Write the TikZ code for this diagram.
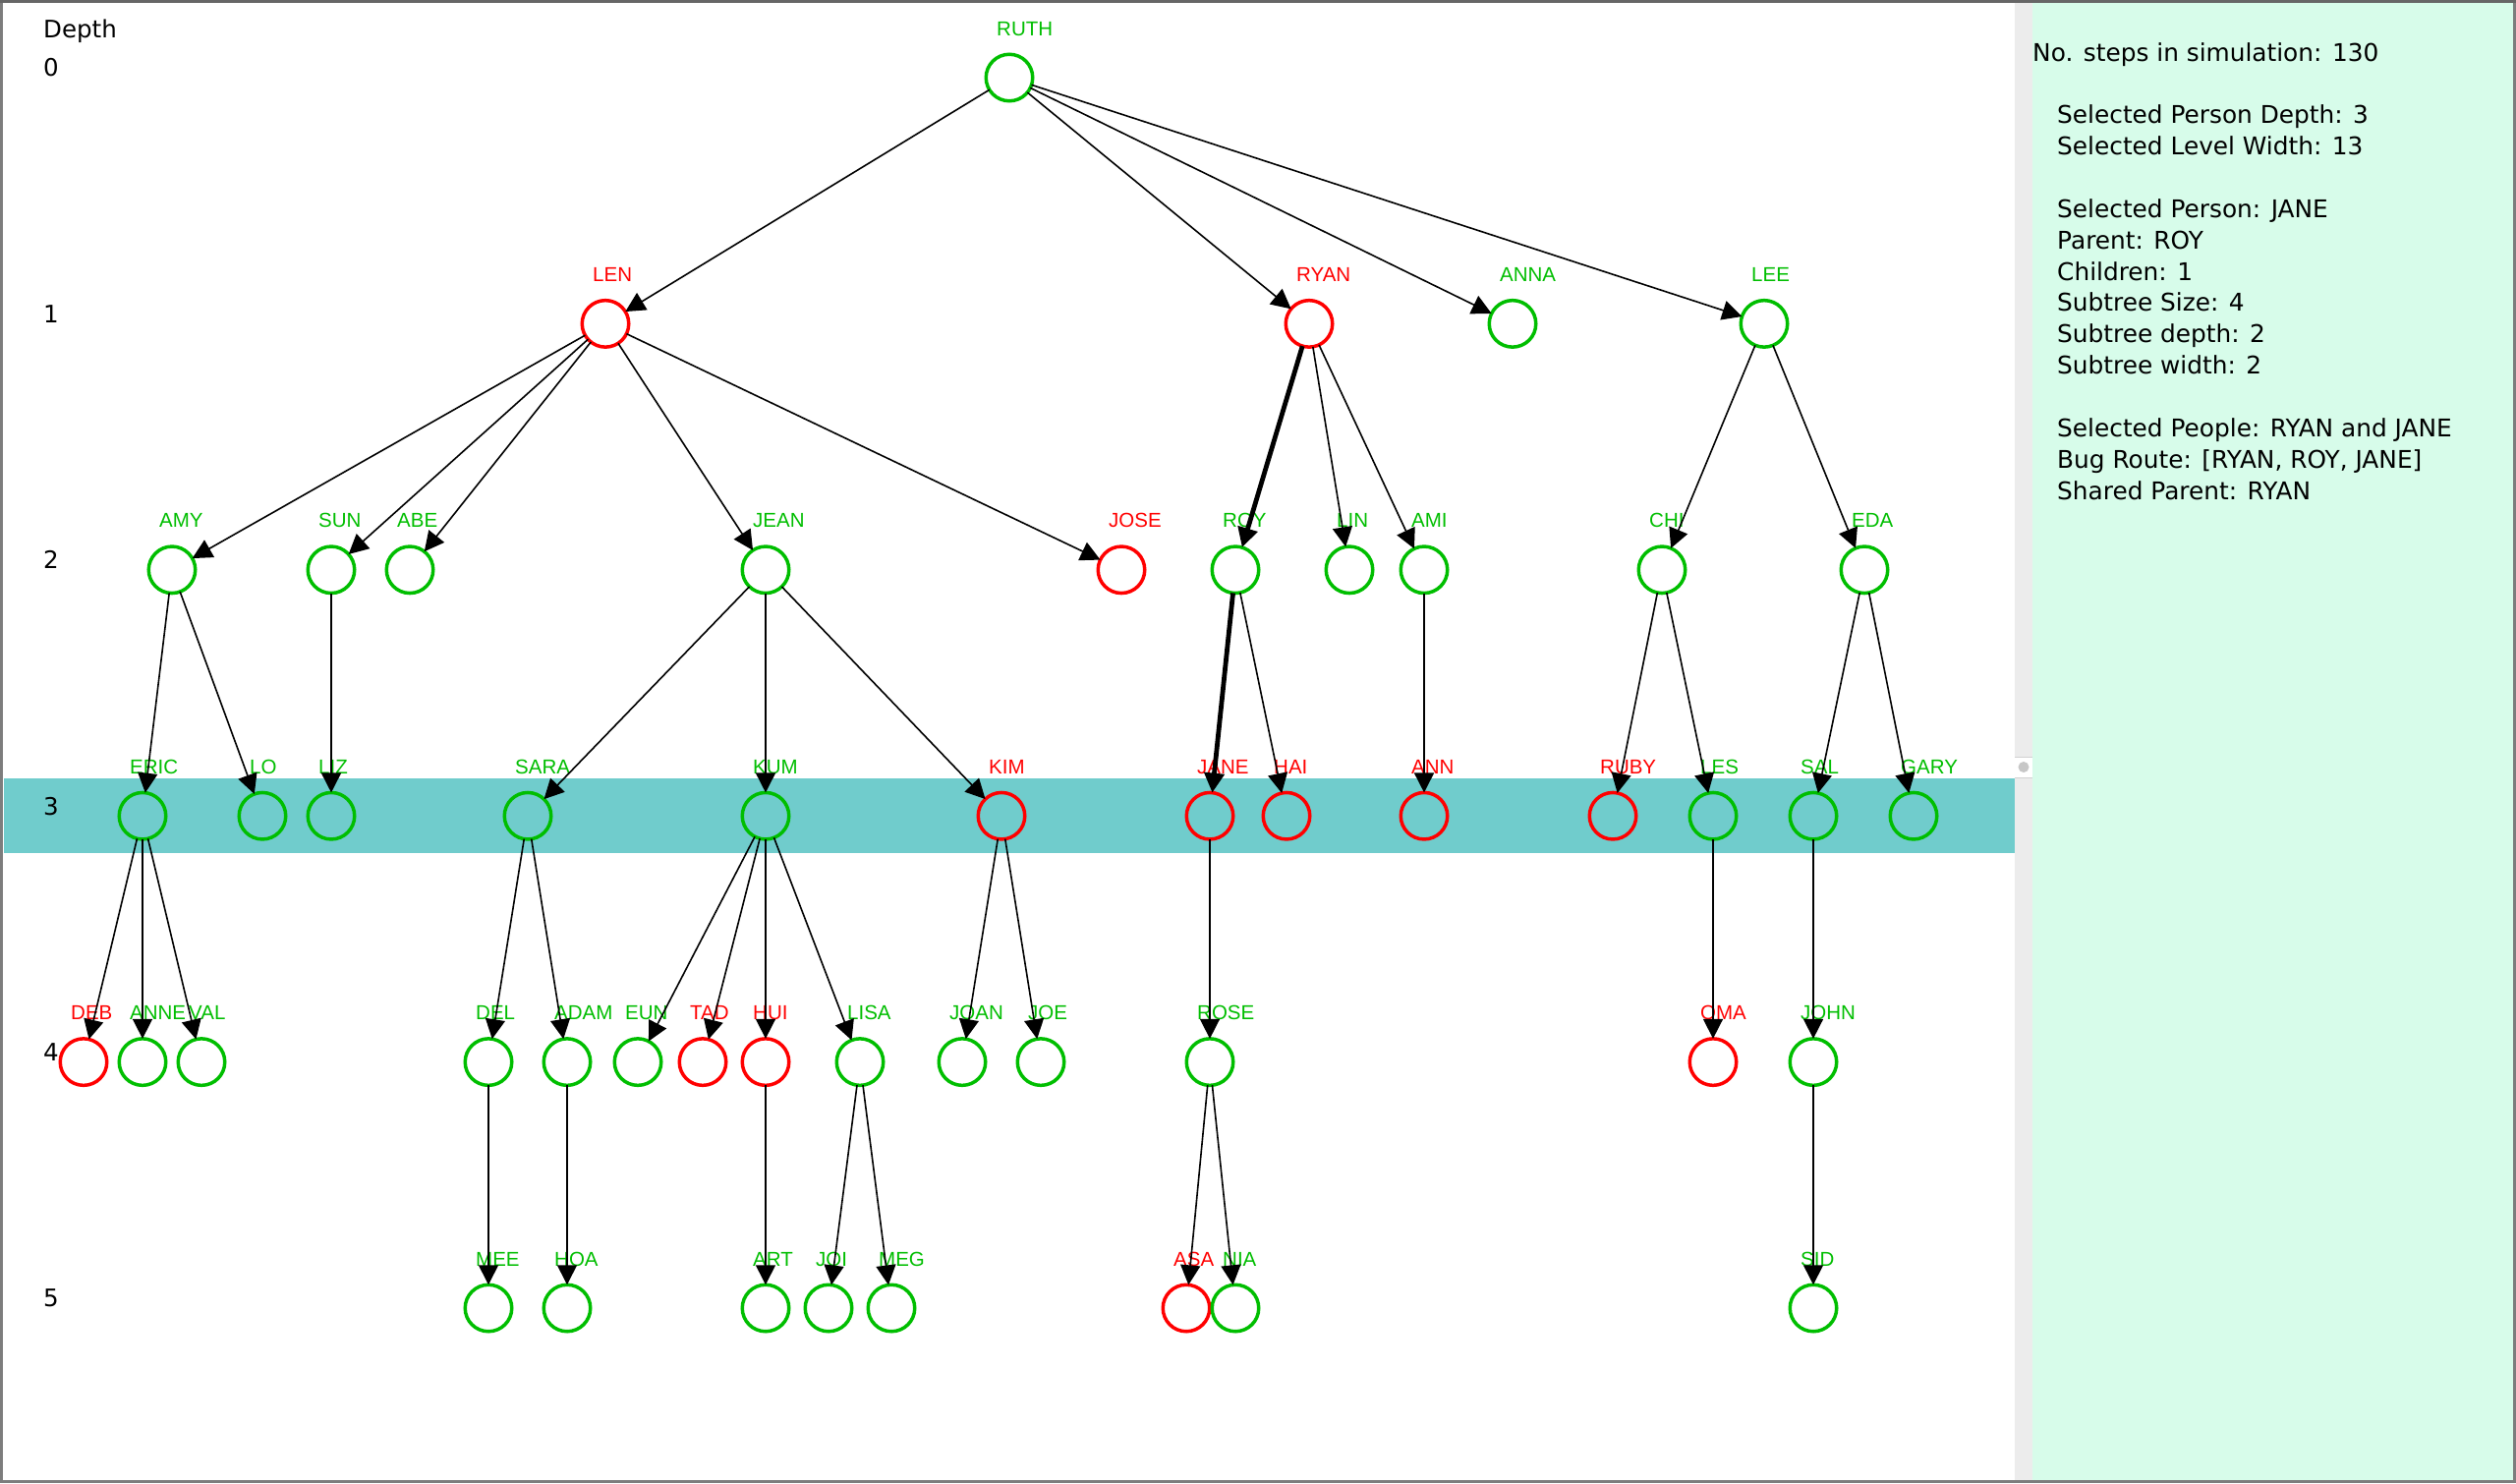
\documentclass[tikz,border=0pt]{standalone}
\usepackage{fontspec}
\setmainfont{Liberation Sans}
\newfontfamily\dvs{DejaVu Sans}
\usetikzlibrary{arrows.meta}
\definecolor{pgreen}{RGB}{0,190,0}
\definecolor{pred}{RGB}{255,0,0}
\definecolor{bandc}{RGB}{112,204,204}
\definecolor{mint}{RGB}{215,252,234}
\definecolor{stripc}{RGB}{236,236,236}
\definecolor{framec}{RGB}{125,125,125}
\newcommand\pers[4]{%
  \node[pc,draw=#4] (#1) at (#2,{79+250.4*#3}) {};
  \node[plab,text=#4] (#1-lab) at ([xshift=-13pt,yshift=43pt]#1.center) {#1};}
\begin{document}
\begin{tikzpicture}[x=1pt,y=-1pt,
  pc/.style={circle,minimum size=47.5pt,inner sep=0pt,outer sep=0pt,line width=3.5pt},
  plab/.style={font=\fontsize{20.5}{24}\selectfont,inner sep=0pt,anchor=base west},
  edge/.style={draw=black,line width=1.6pt,-{Triangle[length=20pt,width=20pt]}},
  route/.style={edge,line width=4.8pt},
  txt/.style={font=\dvs\fontsize{24.5}{30}\selectfont,inner sep=0pt,anchor=base west},
  info/.style={font=\dvs\fontsize{24.8}{30}\selectfont,inner sep=0pt,anchor=base west}]
% background and frame
\fill[white] (0,0) rectangle (2560,1510);
\useasboundingbox (0,0) rectangle (2560,1510);
\fill[mint] (2068,3) rectangle (2557,1506);
\fill[stripc] (2050,3) rectangle (2068,1506);
\fill[white] (2050,770) rectangle (2068,791);
\draw[line width=1pt,black!18] (2050,770) -- (2068,770) (2050,791) -- (2068,791);
\fill[black!22] (2059,780.5) circle (5.5);
\fill[bandc] (4,792) rectangle (2050,868);
\draw[framec,line width=3pt] (1.5,1.5) rectangle (2558.5,1507.5);
\draw[black!60,line width=3pt] (0,1.5) -- (2560,1.5);
% depth column
\node[txt] (dlab) at (44,38) {Depth};
\node[txt] (d0) at (44,77) {0};
\node[txt] (d1) at (44,328) {1};
\node[txt] (d2) at (44,578) {2};
\node[txt] (d3) at (44,829) {3};
\node[txt] (d4) at (44,1079) {4};
\node[txt] (d5) at (44,1329) {5};
% info panel
\node[info] (i0) at (2068,62) {No. steps in simulation: 130};
\node[info] (i1) at (2093,125.7) {Selected Person Depth: 3};
\node[info] (i2) at (2093,157.6) {Selected Level Width: 13};
\node[info] (i3) at (2093,221.4) {Selected Person: JANE};
\node[info] (i4) at (2093,253.2) {Parent: ROY};
\node[info] (i5) at (2093,285) {Children: 1};
\node[info] (i6) at (2093,316.9) {Subtree Size: 4};
\node[info] (i7) at (2093,348.7) {Subtree depth: 2};
\node[info] (i8) at (2093,380.6) {Subtree width: 2};
\node[info] (i9) at (2093,444.3) {Selected People: RYAN and JANE};
\node[info] (i10) at (2093,476.1) {Bug Route: [RYAN, ROY, JANE]};
\node[info] (i11) at (2093,508) {Shared Parent: RYAN};
% people
\pers{RUTH}{1027}{0}{pgreen}
\pers{LEN}{616}{1}{pred}
\pers{RYAN}{1332}{1}{pred}
\pers{ANNA}{1539}{1}{pgreen}
\pers{LEE}{1795}{1}{pgreen}
\pers{AMY}{175}{2}{pgreen}
\pers{SUN}{337}{2}{pgreen}
\pers{ABE}{417}{2}{pgreen}
\pers{JEAN}{779}{2}{pgreen}
\pers{JOSE}{1141}{2}{pred}
\pers{ROY}{1257}{2}{pgreen}
\pers{LIN}{1373}{2}{pgreen}
\pers{AMI}{1449}{2}{pgreen}
\pers{CHI}{1691}{2}{pgreen}
\pers{EDA}{1897}{2}{pgreen}
\pers{ERIC}{145}{3}{pgreen}
\pers{LO}{267}{3}{pgreen}
\pers{LIZ}{337}{3}{pgreen}
\pers{SARA}{537}{3}{pgreen}
\pers{KUM}{779}{3}{pgreen}
\pers{KIM}{1019}{3}{pred}
\pers{JANE}{1231}{3}{pred}
\pers{HAI}{1309}{3}{pred}
\pers{ANN}{1449}{3}{pred}
\pers{RUBY}{1641}{3}{pred}
\pers{LES}{1743}{3}{pgreen}
\pers{SAL}{1845}{3}{pgreen}
\pers{GARY}{1947}{3}{pgreen}
\pers{DEB}{85}{4}{pred}
\pers{ANNE}{145}{4}{pgreen}
\pers{VAL}{205}{4}{pgreen}
\pers{DEL}{497}{4}{pgreen}
\pers{ADAM}{577}{4}{pgreen}
\pers{EUN}{649}{4}{pgreen}
\pers{TAD}{715}{4}{pred}
\pers{HUI}{779}{4}{pred}
\pers{LISA}{875}{4}{pgreen}
\pers{JOAN}{979}{4}{pgreen}
\pers{JOE}{1059}{4}{pgreen}
\pers{ROSE}{1231}{4}{pgreen}
\pers{OMA}{1743}{4}{pred}
\pers{JOHN}{1845}{4}{pgreen}
\pers{MEE}{497}{5}{pgreen}
\pers{HOA}{577}{5}{pgreen}
\pers{ART}{779}{5}{pgreen}
\pers{JOI}{843}{5}{pgreen}
\pers{MEG}{907}{5}{pgreen}
\pers{ASA}{1207}{5}{pred}
\pers{NIA}{1257}{5}{pgreen}
\pers{SID}{1845}{5}{pgreen}
% edges
\draw[edge] (RUTH) -- (LEN);
\draw[edge] (RUTH) -- (RYAN);
\draw[edge] (RUTH) -- (ANNA);
\draw[edge] (RUTH) -- (LEE);
\draw[edge] (LEN) -- (AMY);
\draw[edge] (LEN) -- (SUN);
\draw[edge] (LEN) -- (ABE);
\draw[edge] (LEN) -- (JEAN);
\draw[edge] (LEN) -- (JOSE);
\draw[route] (RYAN) -- (ROY);
\draw[edge] (RYAN) -- (LIN);
\draw[edge] (RYAN) -- (AMI);
\draw[edge] (LEE) -- (CHI);
\draw[edge] (LEE) -- (EDA);
\draw[edge] (AMY) -- (ERIC);
\draw[edge] (AMY) -- (LO);
\draw[edge] (SUN) -- (LIZ);
\draw[edge] (JEAN) -- (SARA);
\draw[edge] (JEAN) -- (KUM);
\draw[edge] (JEAN) -- (KIM);
\draw[route] (ROY) -- (JANE);
\draw[edge] (ROY) -- (HAI);
\draw[edge] (AMI) -- (ANN);
\draw[edge] (CHI) -- (RUBY);
\draw[edge] (CHI) -- (LES);
\draw[edge] (EDA) -- (SAL);
\draw[edge] (EDA) -- (GARY);
\draw[edge] (ERIC) -- (DEB);
\draw[edge] (ERIC) -- (ANNE);
\draw[edge] (ERIC) -- (VAL);
\draw[edge] (SARA) -- (DEL);
\draw[edge] (SARA) -- (ADAM);
\draw[edge] (KUM) -- (EUN);
\draw[edge] (KUM) -- (TAD);
\draw[edge] (KUM) -- (HUI);
\draw[edge] (KUM) -- (LISA);
\draw[edge] (KIM) -- (JOAN);
\draw[edge] (KIM) -- (JOE);
\draw[edge] (JANE) -- (ROSE);
\draw[edge] (LES) -- (OMA);
\draw[edge] (SAL) -- (JOHN);
\draw[edge] (DEL) -- (MEE);
\draw[edge] (ADAM) -- (HOA);
\draw[edge] (HUI) -- (ART);
\draw[edge] (LISA) -- (JOI);
\draw[edge] (LISA) -- (MEG);
\draw[edge] (ROSE) -- (ASA);
\draw[edge] (ROSE) -- (NIA);
\draw[edge] (JOHN) -- (SID);
\end{tikzpicture}
\end{document}
